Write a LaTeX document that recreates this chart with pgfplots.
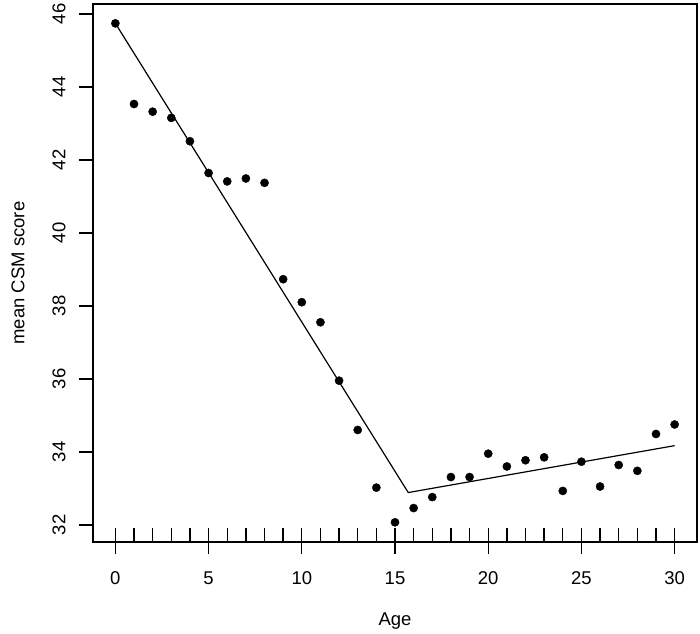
\documentclass[border=0pt]{standalone}
\usepackage{fontspec}
\setmainfont{Liberation Sans}
\usepackage{pgfplots}
\pgfplotsset{compat=1.18}

\pgfplotstableread{
age csm
0 45.74
1 43.53
2 43.32
3 43.15
4 42.51
5 41.64
6 41.41
7 41.49
8 41.37
9 38.73
10 38.10
11 37.55
12 35.95
13 34.60
14 33.02
15 32.07
16 32.46
17 32.76
18 33.31
19 33.31
20 33.95
21 33.60
22 33.77
23 33.85
24 32.93
25 33.73
26 33.05
27 33.64
28 33.48
29 34.49
30 34.75
}\csmdata

\begin{document}
\begin{tikzpicture}
\path[use as bounding box] (-93pt,-91pt) rectangle (607pt,542pt);
\begin{axis}[
    scale only axis,
    width=604pt, height=538pt,
    xmin=-1.2, xmax=31.2,
    ymin=31.53, ymax=46.27,
    axis line style={line width=1.4pt},
    ticklabel style={font=\fontsize{18.5}{22}\selectfont},
    label style={font=\fontsize{18.5}{22}\selectfont},
    /pgf/number format/assume math mode=true,
    xtick={0,...,30},
    xticklabels={0,,,,,5,,,,,10,,,,,15,,,,,20,,,,,25,,,,,30},
    xtick pos=lower, ytick pos=left,
    xtick align=inside,
    major tick length=14pt,
    tick style={line width=1.4pt, black},
    xticklabel shift=26pt,
    ytick={32,34,...,46},
    ytick align=outside,
    yticklabel shift=10pt,
    yticklabel style={rotate=90, anchor=south},
    xlabel={Age},
    ylabel={mean CSM score},
    xlabel style={at={(axis description cs:0.5,0)}, anchor=center, yshift=-79pt},
    ylabel style={at={(axis description cs:0,0.5)}, anchor=center, yshift=75pt},
    clip=false,
]
\addplot[only marks, mark=*, mark size=4.1pt, black] table[x=age, y=csm] {\csmdata};
\addplot[black, line width=1.2pt] coordinates {(0,45.74) (15.71,32.885) (30,34.17)};
\pgfplotsinvokeforeach{0,5,...,30}{
  \draw[line width=1.4pt] (axis cs:#1,31.53) -- ([yshift=-12pt]axis cs:#1,31.53);
}
\end{axis}
\end{tikzpicture}
\end{document}
